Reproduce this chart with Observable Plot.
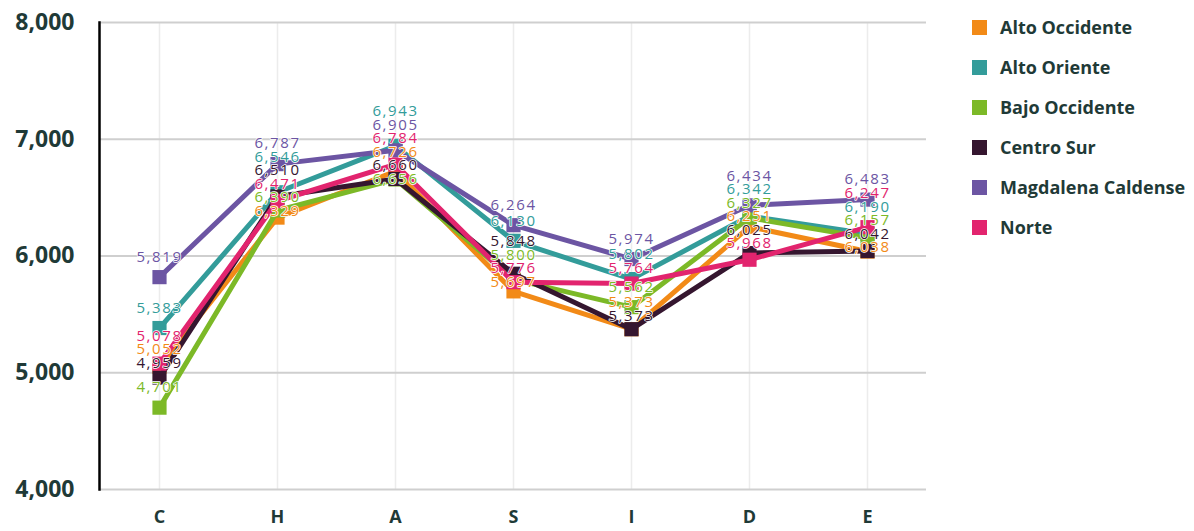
<!DOCTYPE html>
<html>
<head>
<meta charset="utf-8">
<script src="https://cdn.jsdelivr.net/npm/d3@7"></script>
<script src="https://cdn.jsdelivr.net/npm/@observablehq/plot@0.6"></script>
<style>
  html, body { margin: 0; padding: 0; background: #fff; }
  #wrap { position: relative; width: 1194px; height: 531px; font-family: "Open Sans", sans-serif; }
  #chart { position: absolute; left: 0; top: 0; }
  #legend { position: absolute; left: 972px; top: 0; }
  .item { position: absolute; left: 0; height: 20px; display: flex; align-items: center; white-space: nowrap; }
  .sw { width: 15px; height: 15px; margin-right: 13px; flex: none; }
  .lab { font-weight: 700; font-size: 18px; color: #1f3a37; }
</style>
</head>
<body>
<div id="wrap">
  <div id="chart"></div>
  <div id="legend"></div>
</div>
<script>
const categories = ["C", "H", "A", "S", "I", "D", "E"];
const seriesNames = ["Alto Occidente", "Alto Oriente", "Bajo Occidente", "Centro Sur", "Magdalena Caldense", "Norte"];
const seriesColors = ["#F28A17", "#339C9A", "#7CB927", "#35162F", "#6C55A3", "#E2246E"];
const altoOccidente = [5052, 6329, 6726, 5697, 5373, 6251, 6038];
const altoOriente = [5383, 6546, 6943, 6130, 5802, 6342, 6190];
const bajoOccidente = [4701, 6390, 6656, 5800, 5562, 6327, 6157];
const centroSur = [4959, 6510, 6660, 5848, 5373, 6025, 6042];
const magdalenaCaldense = [5819, 6787, 6905, 6264, 5974, 6434, 6483];
const norte = [5078, 6471, 6784, 5776, 5764, 5968, 6247];
const yTicks = [4000, 5000, 6000, 7000, 8000];

const seriesValues = [altoOccidente, altoOriente, bajoOccidente, centroSur, magdalenaCaldense, norte];
const rows = seriesNames.map((s, i) => categories.map((c, j) => ({series: s, cat: c, value: seriesValues[i][j]})));
const allRows = rows.flat();
const fmt = d3.format(",");

// place labels above their points; overlapping labels in a column are spread
// around the mean of their wanted positions (cluster dodge)
function stackLabels(index, scales, values, dimensions, context, next) {
  const X = values.x;
  const want = Float64Array.from(values.y, (v) => v - 20);
  const Y = Float64Array.from(want);
  const gap = 13.5;
  const groups = d3.group(index, (i) => Math.round(X[i]));
  for (const idx of groups.values()) {
    const s = idx.slice().sort((a, b) => want[a] - want[b]);
    const clusters = [];
    for (const i of s) {
      clusters.push({items: [i], sum: want[i], top: want[i]});
      while (clusters.length > 1) {
        const b = clusters[clusters.length - 1], a = clusters[clusters.length - 2];
        if (a.top + a.items.length * gap <= b.top) break;
        const items = a.items.concat(b.items), sum = a.sum + b.sum;
        clusters.splice(-2, 2, {items, sum, top: sum / items.length - (items.length - 1) * gap / 2});
      }
    }
    for (const c of clusters) c.items.forEach((i, k) => { Y[i] = c.top + k * gap; });
  }
  return next(index, scales, {...values, y: Y}, dimensions, context);
}

const marks = [
  Plot.ruleX(categories, {stroke: "#ececec", strokeWidth: 1.5}),
  Plot.gridY(yTicks, {stroke: "#cfcfcf", strokeOpacity: 1, strokeWidth: 2}),
  Plot.axisY(yTicks, {tickSize: 0, tickPadding: 25, tickFormat: fmt, fontSize: 23, fontWeight: 700, fill: "#1f3a37", label: null}),
  Plot.axisX({tickSize: 0, tickPadding: 21, fontSize: 18, fontWeight: 700, fill: "#1f3a37", label: null}),
  Plot.frame({anchor: "left", stroke: "#000", strokeWidth: 2.5})
];
rows.forEach((r) => {
  marks.push(Plot.line(r, {x: "cat", y: "value", stroke: "series", strokeWidth: 5}));
  marks.push(Plot.dot(r, {x: "cat", y: "value", fill: "series", symbol: "square", r: 8}));
});
marks.push(Plot.text(allRows, {
  x: "cat", y: "value", text: (d) => fmt(d.value), fill: "series",
  fontSize: 15, stroke: "white", strokeWidth: 1.5, paintOrder: "stroke",
  fontFamily: "Open Sans", className: "vlabels", render: stackLabels
}));

const chart = Plot.plot({
  width: 940, height: 531,
  marginLeft: 99, marginRight: 14, marginTop: 22, marginBottom: 42,
  style: {fontFamily: "Open Sans", background: "white"},
  x: {type: "point", domain: categories, padding: 0.5, label: null},
  y: {domain: [4000, 8000], label: null, tickFormat: fmt},
  color: {domain: seriesNames, range: seriesColors},
  marks
});
chart.querySelectorAll(".vlabels text").forEach((t) => { t.style.letterSpacing = "1.6px"; });
document.getElementById("chart").appendChild(chart);

const legend = document.getElementById("legend");
seriesNames.forEach((s, i) => {
  const it = document.createElement("div");
  it.className = "item";
  it.style.top = (17 + 40 * i) + "px";
  it.innerHTML = `<div class="sw" style="background:${seriesColors[i]}"></div><span class="lab">${s}</span>`;
  legend.appendChild(it);
});
</script>
</body>
</html>
